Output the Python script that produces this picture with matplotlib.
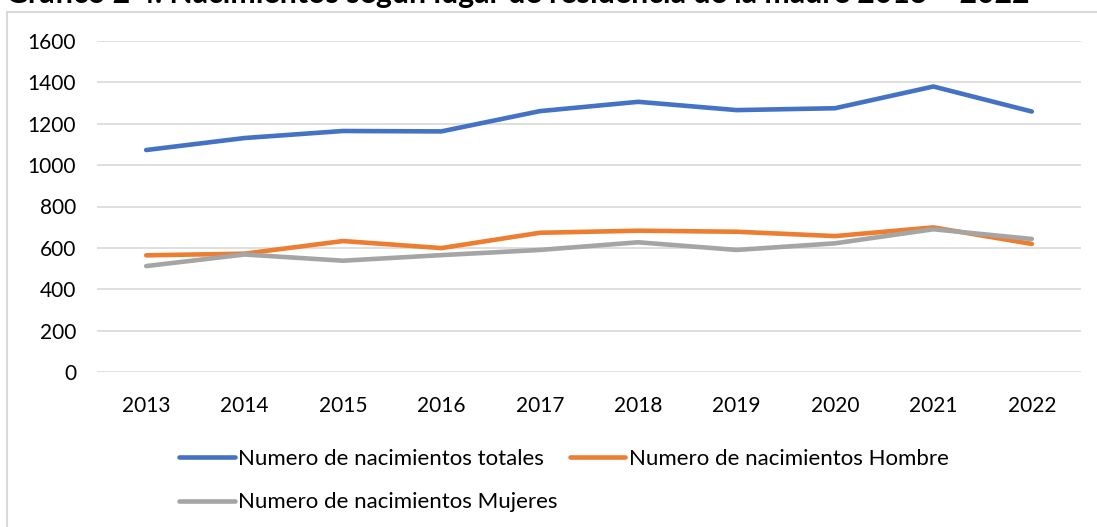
import matplotlib.pyplot as plt
from matplotlib.patches import Rectangle

# datos
anios = ['2013', '2014', '2015', '2016', '2017', '2018', '2019', '2020', '2021', '2022']
totales = [1073, 1131, 1165, 1163, 1261, 1306, 1266, 1275, 1380, 1259]
hombre = [564, 572, 633, 599, 673, 683, 678, 657, 699, 619]
mujeres = [512, 568, 538, 565, 590, 627, 590, 622, 690, 643]

titulo = 'Gráfico 2 4. Nacimientos según lugar de residencia de la madre 2013 – 2022'
etiquetas = ['Numero de nacimientos totales', 'Numero de nacimientos Hombre',
             'Numero de nacimientos Mujeres']

plt.rcParams['font.family'] = ['Lato', 'DejaVu Sans']

fig = plt.figure(figsize=(10.97, 5.27), dpi=100)

# marco gris del grafico
fig.patches.append(Rectangle((7 / 1097, -0.1), 1.2, 1.1 - 12 / 527, transform=fig.transFigure,
                             fill=False, edgecolor='#d9d9d9', linewidth=1.5))

# titulo (cortado arriba, como en el original)
fig.text(6 / 1097, 1 - 3 / 527, titulo, fontsize=21.8, fontweight='bold', color='black',
         ha='left', va='baseline')

ax = fig.add_axes([97 / 1097, 155 / 527, 984 / 1097, 331 / 527])
x = range(len(anios))
l1, = ax.plot(x, totales, color='#4472C4', lw=3.3, solid_capstyle='round', label=etiquetas[0])
l2, = ax.plot(x, hombre, color='#ED7D31', lw=3.3, solid_capstyle='round', label=etiquetas[1])
l3, = ax.plot(x, mujeres, color='#A5A5A5', lw=3.3, solid_capstyle='round', label=etiquetas[2])

ax.set_xlim(-0.5, len(anios) - 0.5)
ax.set_ylim(0, 1600)
ax.set_yticks(range(0, 1601, 200))
ax.set_xticks(list(x))
ax.set_xticklabels(anios)
ax.grid(axis='y', color='#d9d9d9', linewidth=1.2)
ax.set_axisbelow(True)
for s in ax.spines.values():
    s.set_visible(False)
ax.tick_params(length=0, labelsize=15, colors='black')
ax.tick_params(axis='y', pad=15)
ax.tick_params(axis='x', pad=17)

# leyenda: orden por filas
fig.legend([l1, l3, l2], [etiquetas[0], etiquetas[2], etiquetas[1]], ncol=2,
           loc='upper left', bbox_to_anchor=(159 / 1097, 1 - 429 / 527),
           frameon=False, fontsize=16, handlelength=2.5, handletextpad=0.15,
           columnspacing=0.55, labelspacing=1.05)

fig.savefig('out.png', dpi=100)
